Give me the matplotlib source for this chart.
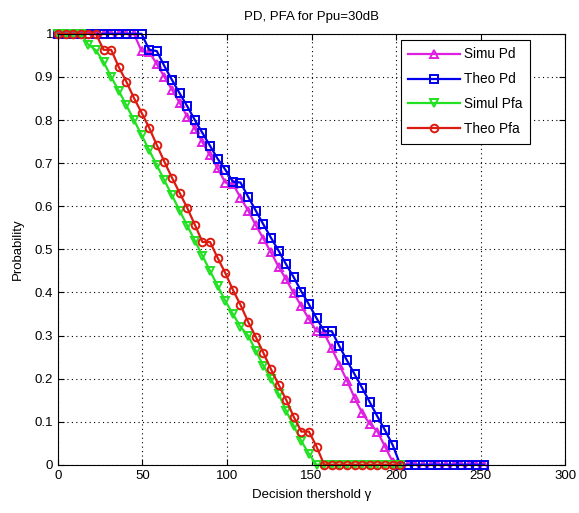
import numpy as np
import matplotlib.pyplot as plt

# threshold grid (step 4.5)
x_pd = np.arange(57) * 4.5
x_pfa = np.arange(46) * 4.5

simu_pd = [1, 1, 1, 1, 1, 1, 1, 1, 1, 1, 1,
           0.96, 0.958, 0.93, 0.9, 0.87, 0.84, 0.808, 0.78, 0.748, 0.718,
           0.688, 0.655, 0.652, 0.62, 0.59, 0.556, 0.525, 0.493, 0.46, 0.43,
           0.398, 0.368, 0.338, 0.31, 0.305, 0.27, 0.232, 0.195, 0.155, 0.12,
           0.095, 0.077, 0.042, 0.007] + [0] * 12

theo_pd = [1, 1, 1, 1, 1, 1, 1, 1, 1, 1, 1, 1,
           0.963, 0.96, 0.925, 0.893, 0.862, 0.832, 0.80, 0.77, 0.74, 0.71,
           0.685, 0.657, 0.655, 0.622, 0.59, 0.558, 0.527, 0.497, 0.465, 0.435,
           0.402, 0.372, 0.34, 0.31, 0.31, 0.275, 0.242, 0.21, 0.178, 0.145,
           0.112, 0.08, 0.046] + [0] * 12

simu_pfa = [1, 1, 1, 1,
            0.975, 0.962, 0.935, 0.90, 0.868, 0.834, 0.80, 0.765, 0.73, 0.695,
            0.66, 0.625, 0.59, 0.555, 0.52, 0.485, 0.45, 0.415, 0.38, 0.35,
            0.32, 0.30, 0.265, 0.23, 0.20, 0.165, 0.125, 0.09, 0.055, 0.025] + [0] * 12

theo_pfa = [1, 1, 1, 1, 1, 1,
            0.963, 0.963, 0.923, 0.889, 0.851, 0.817, 0.782, 0.742, 0.703, 0.666,
            0.631, 0.596, 0.557, 0.517, 0.517, 0.48, 0.445, 0.406, 0.371, 0.332,
            0.297, 0.26, 0.222, 0.186, 0.151, 0.111, 0.077, 0.077, 0.042] + [0] * 11

plt.rcParams['font.family'] = ['Liberation Sans', 'DejaVu Sans']
fig = plt.figure(figsize=(5.79, 5.13), dpi=100)
ax = fig.add_axes([0.1, 0.094, 0.876, 0.84])

kw = dict(markerfacecolor='none', markersize=5.5, markeredgewidth=1.4, linewidth=1.6, clip_on=False)
ax.plot(x_pd, simu_pd, '-^', color='#e020e0', label='Simu Pd', **kw)
ax.plot(x_pd, theo_pd, '-s', color='#0000ee', label='Theo Pd', **kw)
ax.plot(x_pfa, simu_pfa, '-v', color='#22e022', label='Simul Pfa', **kw)
ax.plot(x_pfa, theo_pfa, '-o', color='#dd1a10', label='Theo Pfa', **kw)

ax.set_xlim(0, 300)
ax.set_ylim(0, 1)
ax.set_xticks(np.arange(0, 301, 50))
ax.set_yticks(np.arange(0, 1.01, 0.1))
ax.set_yticklabels(['0', '0.1', '0.2', '0.3', '0.4', '0.5', '0.6', '0.7', '0.8', '0.9', '1'])
ax.tick_params(direction='in', top=True, right=True, labelsize=9.5, length=4)
ax.grid(True, linestyle=(0, (1, 3)), color='black', linewidth=0.8)
ax.set_axisbelow(True)

ax.set_title('PD, PFA for Ppu=30dB', fontsize=9.5, pad=10)
ax.set_xlabel('Decision thershold γ', fontsize=9.5, labelpad=5)
ax.set_ylabel('Probability', fontsize=9.5, labelpad=8)

leg = ax.legend(loc='upper right', bbox_to_anchor=(0.931, 0.986), fontsize=9.8,
                handlelength=3.8, handletextpad=0.3, fancybox=False, edgecolor='black',
                framealpha=1, borderaxespad=0, labelspacing=0.8, borderpad=0.55)
leg.get_frame().set_linewidth(0.8)

fig.savefig('out.png', dpi=100)
